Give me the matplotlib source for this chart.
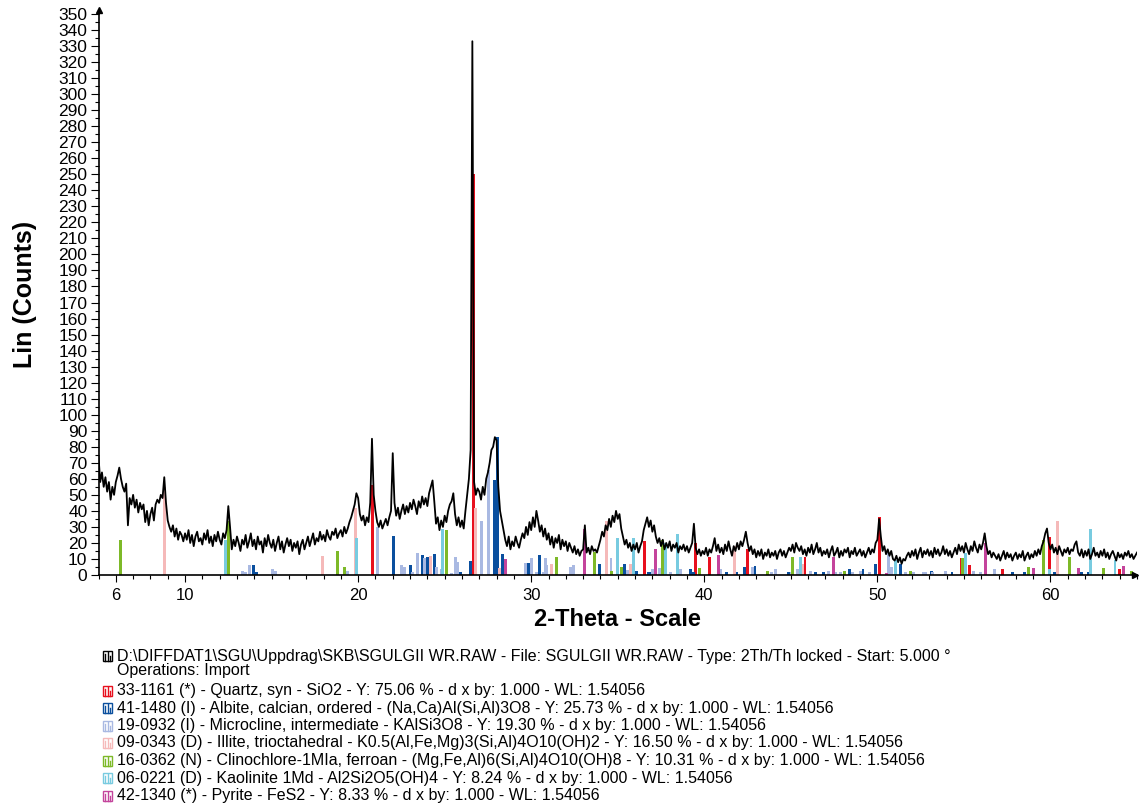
import matplotlib.pyplot as plt
import numpy as np
from matplotlib.patches import Rectangle

plt.rcParams['font.family'] = ['Liberation Sans', 'DejaVu Sans']

# measured pattern, 0.1 deg steps from 5.0 to 65.0 (one row per degree)
counts_rows = [
    [74, 58, 64, 55, 61, 52, 58, 47, 55, 50],   # 5
    [58, 62, 67, 60, 55, 52, 57, 31, 48, 44],   # 6
    [50, 42, 47, 39, 45, 41, 44, 33, 40, 31],   # 7
    [38, 42, 34, 44, 47, 45, 50, 48, 61, 45],   # 8
    [34, 30, 27, 31, 24, 29, 22, 27, 25, 21],   # 9
    [26, 22, 28, 20, 25, 18, 24, 27, 21, 23],   # 10
    [19, 26, 22, 28, 20, 24, 18, 25, 21, 27],   # 11
    [22, 19, 26, 23, 28, 43, 30, 16, 22, 18],   # 12
    [24, 20, 15, 22, 19, 25, 17, 21, 26, 18],   # 13
    [22, 16, 24, 19, 21, 14, 23, 18, 25, 20],   # 14
    [17, 22, 15, 20, 24, 16, 21, 14, 19, 23],   # 15
    [18, 22, 15, 20, 17, 21, 13, 19, 22, 16],   # 16
    [20, 24, 18, 22, 26, 19, 23, 21, 27, 22],   # 17
    [25, 21, 28, 24, 22, 27, 25, 29, 23, 26],   # 18
    [28, 24, 30, 26, 29, 33, 36, 40, 44, 51],   # 19
    [48, 38, 34, 37, 31, 36, 33, 45, 85, 50],   # 20
    [40, 33, 30, 34, 29, 32, 35, 31, 36, 40],   # 21
    [76, 45, 37, 42, 35, 40, 44, 38, 43, 39],   # 22
    [45, 41, 47, 43, 38, 46, 42, 49, 44, 48],   # 23
    [43, 51, 55, 59, 46, 32, 36, 28, 34, 30],   # 24
    [37, 33, 40, 44, 46, 51, 38, 31, 36, 30],   # 25
    [34, 29, 40, 50, 60, 78, 333, 58, 50, 54],  # 26
    [52, 47, 55, 50, 60, 64, 70, 78, 80, 86],   # 27
    [84, 55, 40, 34, 28, 22, 18, 24, 16, 21],   # 28
    [18, 24, 20, 17, 22, 26, 23, 30, 25, 33],   # 29
    [28, 36, 30, 40, 34, 27, 31, 24, 29, 22],   # 30
    [26, 19, 24, 17, 23, 20, 25, 16, 22, 18],   # 31
    [21, 15, 20, 17, 14, 18, 13, 16, 12, 15],   # 32
    [16, 31, 14, 17, 13, 18, 15, 16, 14, 18],   # 33
    [22, 27, 24, 31, 28, 35, 30, 37, 33, 40],   # 34
    [35, 38, 29, 24, 19, 22, 17, 20, 15, 19],   # 35
    [16, 20, 14, 18, 21, 28, 32, 36, 30, 34],   # 36
    [27, 31, 24, 20, 23, 18, 22, 16, 20, 17],   # 37
    [21, 15, 19, 17, 20, 14, 18, 16, 19, 15],   # 38
    [18, 14, 17, 20, 32, 17, 13, 16, 12, 15],   # 39
    [13, 17, 12, 16, 14, 18, 23, 15, 19, 14],   # 40
    [17, 13, 19, 15, 21, 16, 12, 18, 15, 20],   # 41
    [16, 21, 18, 22, 27, 20, 15, 18, 13, 16],   # 42
    [11, 15, 12, 16, 10, 14, 12, 16, 11, 14],   # 43
    [12, 15, 10, 14, 16, 12, 15, 11, 14, 17],   # 44
    [15, 19, 14, 20, 17, 15, 18, 13, 16, 12],   # 45
    [17, 14, 19, 13, 16, 20, 14, 17, 12, 15],   # 46
    [13, 16, 11, 15, 18, 12, 14, 17, 11, 15],   # 47
    [12, 16, 14, 17, 11, 15, 13, 17, 12, 14],   # 48
    [16, 12, 15, 11, 14, 17, 13, 16, 14, 20],   # 49
    [22, 35, 24, 15, 18, 13, 16, 12, 15, 10],   # 50
    [9, 12, 8, 11, 7, 10, 9, 12, 14, 11],       # 51
    [15, 12, 16, 10, 14, 17, 11, 15, 13, 16],   # 52
    [12, 15, 11, 17, 13, 16, 12, 14, 18, 13],   # 53
    [16, 12, 15, 11, 14, 17, 13, 19, 15, 18],   # 54
    [14, 20, 16, 13, 18, 15, 21, 17, 14, 19],   # 55
    [16, 20, 26, 18, 13, 15, 11, 14, 12, 10],   # 56
    [13, 9, 12, 15, 10, 14, 11, 13, 9, 12],     # 57
    [14, 10, 13, 11, 15, 9, 12, 14, 10, 13],    # 58
    [11, 15, 12, 16, 13, 18, 21, 26, 29, 20],   # 59
    [16, 19, 14, 17, 13, 18, 15, 12, 16, 14],   # 60
    [17, 13, 16, 15, 19, 21, 14, 12, 16, 11],   # 61
    [15, 12, 16, 10, 13, 17, 12, 14, 11, 15],   # 62
    [12, 16, 11, 14, 10, 13, 15, 12, 9, 14],    # 63
    [11, 13, 10, 14, 12, 15, 11, 13, 10, 12],   # 64
    [14],                                       # 65
]
counts = np.array([c for row in counts_rows for c in row], dtype=float)
two_theta = 5.0 + 0.1 * np.arange(len(counts))

# reference patterns (2theta, height)
quartz_pos = [20.85, 26.64, 36.57, 39.47, 40.29, 42.47, 45.82, 50.11, 54.87, 55.33, 57.24, 59.95, 64.0]
quartz_h = [56, 250, 21, 20, 11.5, 16.5, 11, 36, 10.4, 6.3, 4, 23.6, 3.8]

albite_pos = [13.97, 14.14, 22.04, 23.0, 23.7, 24.03, 24.39, 25.9, 26.47, 27.88, 28.03, 28.36,
              29.85, 30.46, 33.93, 35.38, 36.06, 36.78, 36.88, 39.18, 39.38, 41.26, 41.89, 42.35,
              42.93, 44.87, 46.41, 46.88, 48.38, 49.17, 49.87, 50.75, 51.36, 53.12, 54.31, 57.82,
              58.51, 60.23, 61.79, 62.21]
albite_h = [6.3, 1.9, 24.4, 6.3, 12.4, 11.5, 13, 1.7, 8.8, 59, 86, 13,
            7.3, 12.5, 6.9, 6.9, 2.7, 1.7, 1.7, 3.7, 1.7, 2, 1.6, 5,
            5.7, 1.7, 2.1, 1.7, 3.8, 3.8, 6.9, 4.6, 6.9, 2.7, 1.7, 1.9,
            1.7, 1.7, 1.7, 1.7]

microcline_pos = [13.33, 13.5, 13.72, 15.07, 15.22, 19.37, 21.1, 22.49, 22.66, 23.14, 23.45, 23.82,
                  24.55, 24.79, 25.38, 25.65, 25.75, 27.11, 27.53, 29.69, 30.04, 30.33, 30.71, 30.81,
                  30.9, 32.29, 32.45, 34.61, 35.57, 37.03, 37.42, 38.06, 38.6, 40.92, 42.81, 43.91,
                  44.14, 45.03, 45.4, 46.13, 47.2, 47.6, 47.86, 48.59, 49.02, 49.53, 50.62, 50.84,
                  51.6, 52.06, 52.67, 52.81, 53.21, 53.93, 55.57, 55.96, 56.74]
microcline_h = [2.7, 1.9, 6.3, 3.8, 2.3, 2.5, 30, 6.3, 5.2, 1.9, 13.6, 10.3,
                5.2, 3.6, 1.5, 11.5, 8.4, 33.4, 65.6, 7.7, 10.4, 2, 2, 10.4,
                6.3, 5.2, 6.3, 10.4, 3, 3.6, 4.5, 2, 3.8, 3.8, 4.8, 2,
                3.8, 1.7, 3.8, 2.5, 2.5, 1.7, 2, 1.7, 2.5, 1.7, 13.6, 5.2,
                1.7, 1.7, 1.7, 1.7, 1.7, 2.5, 2.5, 2, 3.8]

illite_pos = [8.84, 17.96, 19.85, 24.16, 26.78, 28.16, 31.16, 34.34, 35.76, 41.77, 45.7, 60.43]
illite_h = [55, 12, 42, 11.9, 42, 4.2, 6.9, 34, 6.9, 18, 7, 34]

clino_pos = [6.27, 12.52, 18.81, 19.21, 25.11, 31.45, 33.68, 34.62, 35.19, 37.56, 39.71, 43.67,
             45.07, 48.08, 51.9, 54.94, 58.74, 59.6, 61.1, 63.06, 64.67]
clino_h = [22, 34, 15, 4.8, 28, 11.5, 14.6, 2.7, 5, 22, 4.4, 2.7,
           11.1, 2.7, 2.7, 10.4, 4.7, 22, 11.1, 4.6, 2.6]

kaolinite_pos = [12.36, 19.89, 24.9, 34.98, 35.89, 37.74, 38.45, 45.55, 51.04, 55.07, 59.96, 62.33, 63.73]
kaolinite_h = [22, 23, 29, 23, 23, 20, 25.6, 11.5, 9.2, 13.6, 3.6, 28.6, 9.4]

pyrite_pos = [28.53, 33.09, 37.17, 40.8, 47.44, 50.52, 56.27, 59.0, 61.64, 64.24]
pyrite_h = [9.8, 29, 16, 12.3, 11.1, 1, 20, 4.2, 4.6, 5.6]

phases = [
    (quartz_pos, quartz_h, '#e8101e'),
    (albite_pos, albite_h, '#0a4f9e'),
    (microcline_pos, microcline_h, '#a9b9e2'),
    (illite_pos, illite_h, '#f5b9b9'),
    (clino_pos, clino_h, '#7db928'),
    (kaolinite_pos, kaolinite_h, '#78cbe0'),
    (pyrite_pos, pyrite_h, '#c4449c'),
]

legend_lines = [
    "33-1161 (*) - Quartz, syn - SiO2 - Y: 75.06 % - d x by: 1.000 - WL: 1.54056",
    "41-1480 (I) - Albite, calcian, ordered - (Na,Ca)Al(Si,Al)3O8 - Y: 25.73 % - d x by: 1.000 - WL: 1.54056",
    "19-0932 (I) - Microcline, intermediate - KAlSi3O8 - Y: 19.30 % - d x by: 1.000 - WL: 1.54056",
    "09-0343 (D) - Illite, trioctahedral - K0.5(Al,Fe,Mg)3(Si,Al)4O10(OH)2 - Y: 16.50 % - d x by: 1.000 - WL: 1.54056",
    "16-0362 (N) - Clinochlore-1MIa, ferroan - (Mg,Fe,Al)6(Si,Al)4O10(OH)8 - Y: 10.31 % - d x by: 1.000 - WL: 1.54056",
    "06-0221 (D) - Kaolinite 1Md - Al2Si2O5(OH)4 - Y: 8.24 % - d x by: 1.000 - WL: 1.54056",
    "42-1340 (*) - Pyrite - FeS2 - Y: 8.33 % - d x by: 1.000 - WL: 1.54056",
]
header_lines = [
    "D:\\DIFFDAT1\\SGU\\Uppdrag\\SKB\\SGULGII WR.RAW - File: SGULGII WR.RAW - Type: 2Th/Th locked - Start: 5.000 °",
    "Operations: Import",
]

W, H = 1139, 810
fig = plt.figure(figsize=(W / 100, H / 100), dpi=100)
ax = fig.add_axes([98.5 / W, 1 - 575 / H, (1137 - 98.5) / W, 561 / H])

ax.plot(two_theta, counts, color='black', lw=1.3, zorder=3)
for pos, h, col in phases:
    ax.bar(pos, h, width=0.17, color=col, zorder=2, linewidth=0)

ax.set_xlim(5, 65)
ax.set_ylim(0, 350)
ax.set_yticks(np.arange(0, 351, 10))
ax.set_yticks(np.arange(0, 351, 5), minor=True)
ax.set_xticks([6, 10, 20, 30, 40, 50, 60])
ax.set_xticks(np.arange(5, 66, 1), minor=True)
ax.tick_params(axis='y', which='major', labelsize=12.5, length=6, width=0.8, pad=2)
ax.tick_params(axis='y', which='minor', length=3, width=0.8)
ax.tick_params(axis='x', which='major', labelsize=12, length=5, width=0.8, pad=4)
ax.tick_params(axis='x', which='minor', length=3, width=0.8)
for s in ['top', 'right']:
    ax.spines[s].set_visible(False)
for s in ['left', 'bottom']:
    ax.spines[s].set_linewidth(1.2)
ax.spines['left'].set_bounds(0, 352)

ax.set_xlabel('2-Theta - Scale', fontsize=17, fontweight='bold', labelpad=4)
ax.set_ylabel('Lin (Counts)', fontsize=18, fontweight='bold', labelpad=15)

# overlay in pixel coordinates for arrows and the legend block
ov = fig.add_axes([0, 0, 1, 1], zorder=5)
ov.set_xlim(0, W)
ov.set_ylim(H, 0)
ov.set_axis_off()
ov.plot([98.5], [10], marker='^', color='black', ms=5)
ov.plot([1135], [575], marker='>', color='black', ms=5)


def icon(x, y, col):
    ov.add_patch(Rectangle((x, y - 5), 9, 10, fill=False, ec=col, lw=1.0))
    for dx, hh in [(2, 7), (4.5, 9), (7, 5)]:
        ov.plot([x + dx, x + dx], [y + 5, y + 5 - hh], color=col, lw=1.0)


ov.text(117, 656, header_lines[0], fontsize=11.5, va='center')
ov.text(117, 671, header_lines[1], fontsize=11.5, va='center')
icon(103, 656, 'black')
for i, (line, ph) in enumerate(zip(legend_lines, phases)):
    y = 690.5 + i * 17.5
    icon(103, y, ph[2])
    ov.text(117, y, line, fontsize=11.5, va='center')

fig.savefig('out.png', dpi=100)
